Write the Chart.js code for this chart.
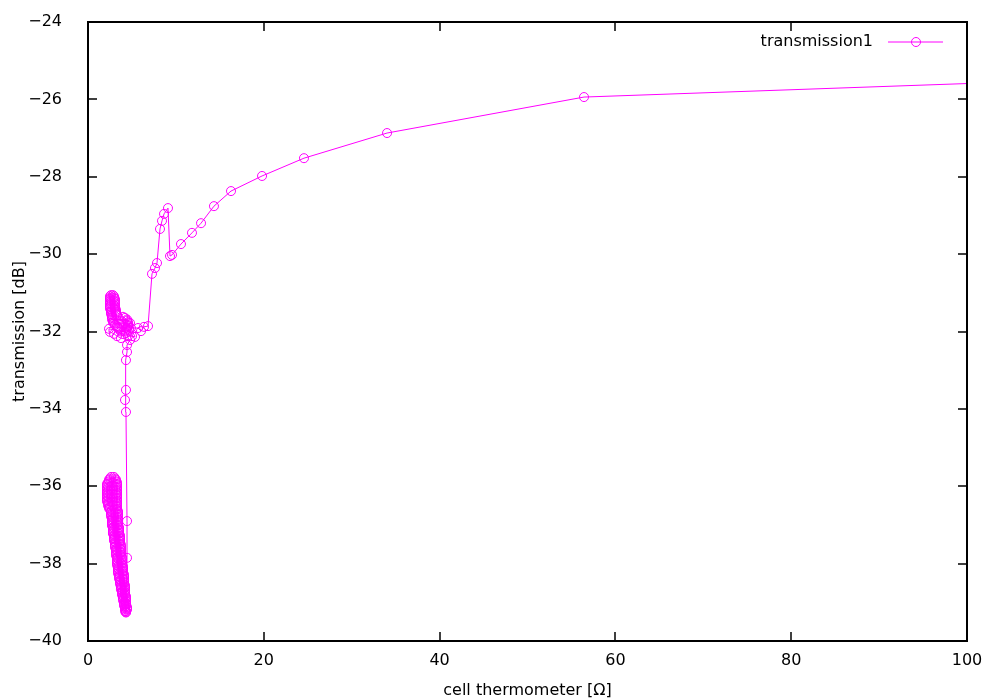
<!DOCTYPE html>
<html>
<head>
<meta charset="utf-8">
<script src="https://cdn.jsdelivr.net/npm/chart.js@4.4.1/dist/chart.umd.min.js"></script>
<style>
  html, body { margin: 0; padding: 0; background: #fff; }
  #wrap { width: 1000px; height: 700px; }
</style>
</head>
<body>
<div id="wrap"><canvas id="grafico" width="1000" height="700"></canvas></div>
<script>
// valores (termometro en ohm, transmision en dB)
// cada linea de thermometer va con la misma linea de transmission
const seriesLabel = "transmission1";

const thermometer = [
  // nube inferior (de arriba hacia abajo)
  2.62, 2.96,  3.07, 2.50,  2.39, 3.19,  3.19, 2.39,  2.28, 3.30,
  3.30, 2.16,  2.16, 3.30,  3.30, 2.16,  2.16, 3.30,  3.30, 2.16,
  2.16, 3.30,  3.30, 2.16,  2.16, 3.30,  3.30, 2.16,  2.16, 3.30,
  3.30, 2.16,  2.16, 3.30,  3.30, 2.16,  2.16, 3.30,  3.30, 2.28,
  2.28, 3.30,  3.30, 2.28,  2.39, 3.30,  3.30, 2.39,  2.50, 3.30,
  3.41, 2.62,  2.62, 3.41,  3.41, 2.62,  2.62, 3.41,  3.41, 2.62,
  2.73, 3.41,  3.41, 2.73,  2.73, 3.41,  3.41, 2.73,  2.73, 3.41,
  3.41, 2.73,  2.73, 3.41,  3.53, 2.84,  2.84, 3.53,  3.53, 2.84,
  2.84, 3.53,  3.53, 2.84,  2.84, 3.53,  3.64, 2.96,  2.96, 3.64,
  3.64, 2.96,  2.96, 3.64,  3.64, 2.96,  3.07, 3.64,  3.64, 3.07,
  3.07, 3.75,  3.75, 3.07,  3.07, 3.75,  3.75, 3.19,  3.19, 3.75,
  3.75, 3.19,  3.19, 3.75,  3.75, 3.19,  3.19, 3.75,  3.87, 3.30,
  3.30, 3.87,  3.87, 3.30,  3.30, 3.87,  3.87, 3.30,  3.30, 3.87,
  3.87, 3.30,  3.41, 3.98,  3.98, 3.41,  3.41, 3.98,  3.98, 3.41,
  3.41, 3.98,  3.98, 3.41,  3.53, 4.10,  4.10, 3.53,  3.53, 4.10,
  4.10, 3.53,  3.64, 4.10,  4.10, 3.64,  3.64, 4.10,  4.10, 3.64,
  3.75, 4.21,  4.21, 3.75,  3.75, 4.21,  4.21, 3.75,  3.87, 4.21,
  4.21, 3.87,  3.87, 4.21,  4.21, 3.87,  3.98, 4.32,  4.32, 3.98,
  3.98, 4.32,  4.32, 3.98,  4.10, 4.32,  4.32, 4.10,  4.10, 4.32,
  4.32, 4.10,  4.21, 4.44,  4.44, 4.21,  4.21, 4.44,  4.32, 4.21,
  4.32, 4.32,
  // subida a 4.3 ohm
  4.44, 4.44, 4.32, 4.21, 4.32, 4.32, 4.44, 4.44,
  // nube superior (de abajo hacia arriba)
  4.78, 3.75, 3.30, 2.96, 2.50, 2.39,
  3.75, 4.21,  4.32, 3.64,  3.53, 4.44,  4.44, 3.41,  3.30, 4.55,
  4.55, 3.07,  2.96, 4.55,  4.55, 2.84,  2.84, 4.44,  4.44, 2.73,
  2.73, 4.21,  3.98, 2.73,  2.73, 3.30,  3.19, 2.62,  2.62, 3.19,
  3.19, 2.62,  2.62, 3.19,  3.07, 2.50,  2.50, 3.07,  3.07, 2.50,
  2.50, 3.07,  3.07, 2.50,  2.50, 3.07,  3.07, 2.50,  2.50, 3.07,
  2.96, 2.50,  2.50, 2.96,  2.84, 2.62,
  4.55, 4.78, 4.66, 4.32, 4.55, 5.01, 5.35, 4.89, 5.69, 6.03, 6.37,
  6.83,
  // rama alta
  7.28, 7.62, 7.85, 8.19, 8.42, 8.65, 9.10, 9.33, 9.56, 10.58,
  11.83, 12.86, 14.33, 16.27, 19.80, 24.57, 34.02, 56.43, 130.0
];

const transmission = [
  // nube inferior
  -35.76, -35.76,  -35.80, -35.80,  -35.83, -35.83,  -35.87, -35.87,  -35.90, -35.90,
  -35.94, -35.94,  -35.97, -35.97,  -36.01, -36.01,  -36.04, -36.04,  -36.08, -36.08,
  -36.11, -36.11,  -36.15, -36.15,  -36.18, -36.18,  -36.22, -36.22,  -36.25, -36.25,
  -36.29, -36.29,  -36.32, -36.32,  -36.36, -36.36,  -36.39, -36.39,  -36.43, -36.43,
  -36.46, -36.46,  -36.50, -36.50,  -36.53, -36.53,  -36.57, -36.57,  -36.60, -36.60,
  -36.64, -36.64,  -36.67, -36.67,  -36.71, -36.71,  -36.74, -36.74,  -36.78, -36.78,
  -36.81, -36.81,  -36.85, -36.85,  -36.88, -36.88,  -36.92, -36.92,  -36.95, -36.95,
  -36.99, -36.99,  -37.02, -37.02,  -37.06, -37.06,  -37.09, -37.09,  -37.13, -37.13,
  -37.16, -37.16,  -37.20, -37.20,  -37.23, -37.23,  -37.27, -37.27,  -37.30, -37.30,
  -37.34, -37.34,  -37.37, -37.37,  -37.41, -37.41,  -37.44, -37.44,  -37.48, -37.48,
  -37.51, -37.51,  -37.55, -37.55,  -37.58, -37.58,  -37.62, -37.62,  -37.65, -37.65,
  -37.69, -37.69,  -37.72, -37.72,  -37.76, -37.76,  -37.79, -37.79,  -37.83, -37.83,
  -37.86, -37.86,  -37.90, -37.90,  -37.93, -37.93,  -37.97, -37.97,  -38.00, -38.00,
  -38.04, -38.04,  -38.07, -38.07,  -38.11, -38.11,  -38.14, -38.14,  -38.18, -38.18,
  -38.21, -38.21,  -38.25, -38.25,  -38.28, -38.28,  -38.32, -38.32,  -38.35, -38.35,
  -38.39, -38.39,  -38.42, -38.42,  -38.46, -38.46,  -38.49, -38.49,  -38.53, -38.53,
  -38.56, -38.56,  -38.60, -38.60,  -38.63, -38.63,  -38.67, -38.67,  -38.70, -38.70,
  -38.74, -38.74,  -38.77, -38.77,  -38.81, -38.81,  -38.84, -38.84,  -38.88, -38.88,
  -38.91, -38.91,  -38.95, -38.95,  -38.98, -38.98,  -39.02, -39.02,  -39.05, -39.05,
  -39.09, -39.09,  -39.12, -39.12,  -39.16, -39.16,  -39.19, -39.19,  -39.23, -39.23,
  -39.26, -39.26,
  // subida a 4.3 ohm
  -37.85, -36.90, -34.08, -33.77, -33.51, -32.74, -32.53, -32.35,
  // nube superior
  -32.22, -32.17, -32.12, -32.06, -32.01, -31.93,
  -32.00, -32.00,  -31.97, -31.97,  -31.93, -31.93,  -31.90, -31.90,  -31.86, -31.86,
  -31.83, -31.83,  -31.79, -31.79,  -31.76, -31.76,  -31.72, -31.72,  -31.69, -31.69,
  -31.65, -31.65,  -31.62, -31.62,  -31.58, -31.58,  -31.55, -31.55,  -31.51, -31.51,
  -31.48, -31.48,  -31.44, -31.44,  -31.41, -31.41,  -31.37, -31.37,  -31.34, -31.34,
  -31.30, -31.30,  -31.27, -31.27,  -31.23, -31.23,  -31.20, -31.20,  -31.16, -31.16,
  -31.13, -31.13,  -31.09, -31.09,  -31.06, -31.06,
  -31.86, -31.78, -31.96, -32.04, -32.12, -32.12, -32.14, -31.91, -31.91, -31.99, -31.88,
  -31.86,
  // rama alta
  -30.51, -30.36, -30.23, -29.35, -29.14, -28.96, -28.81, -30.05, -30.02, -29.74,
  -29.45, -29.20, -28.76, -28.37, -27.98, -27.52, -26.87, -25.94, -25.35
];

const xTicks = [0, 20, 40, 60, 80, 100];
const yTicks = [-40, -38, -36, -34, -32, -30, -28, -26, -24];

const MAGENTA = "#ff00ff";
const FUENTE = "DejaVu Sans";

const puntos = thermometer.map((t, i) => ({ x: t, y: transmission[i] }));

// marco y marcas hacia dentro, estilo gnuplot
const marcoPlugin = {
  id: "marco",
  afterDatasetsDraw(chart) {
    const { ctx, chartArea: a, scales } = chart;
    const largo = 9;
    ctx.save();
    ctx.strokeStyle = "#000";
    ctx.lineWidth = 1.5;
    xTicks.forEach(v => {
      const px = Math.round(scales.x.getPixelForValue(v));
      ctx.beginPath();
      ctx.moveTo(px, a.bottom); ctx.lineTo(px, a.bottom - largo);
      ctx.moveTo(px, a.top); ctx.lineTo(px, a.top + largo);
      ctx.stroke();
    });
    yTicks.forEach(v => {
      const py = Math.round(scales.y.getPixelForValue(v));
      ctx.beginPath();
      ctx.moveTo(a.left, py); ctx.lineTo(a.left + largo, py);
      ctx.moveTo(a.right, py); ctx.lineTo(a.right - largo, py);
      ctx.stroke();
    });
    ctx.lineWidth = 2;
    ctx.strokeRect(a.left, a.top, a.right - a.left, a.bottom - a.top);

    // leyenda: texto y luego muestra de linea con circulo
    const ly = a.top + 20;
    ctx.font = "16px '" + FUENTE + "'";
    ctx.fillStyle = "#000";
    ctx.textAlign = "right";
    ctx.textBaseline = "middle";
    ctx.fillText(seriesLabel, 873, ly);
    ctx.strokeStyle = MAGENTA;
    ctx.lineWidth = 1;
    ctx.beginPath();
    ctx.moveTo(888, ly); ctx.lineTo(943, ly);
    ctx.stroke();
    ctx.beginPath();
    ctx.arc(916, ly, 4.5, 0, Math.PI * 2);
    ctx.stroke();
    ctx.restore();
  }
};

new Chart(document.getElementById("grafico"), {
  type: "scatter",
  data: {
    datasets: [{
      label: seriesLabel,
      data: puntos,
      showLine: true,
      borderColor: MAGENTA,
      borderWidth: 1,
      backgroundColor: "rgba(0,0,0,0)",
      pointBorderColor: MAGENTA,
      pointBackgroundColor: "rgba(0,0,0,0)",
      pointRadius: 4.5,
      pointBorderWidth: 1,
      tension: 0
    }]
  },
  options: {
    responsive: false,
    animation: false,
    events: [],
    layout: { padding: { top: 22, right: 33, left: 0, bottom: 0 } },
    plugins: { legend: { display: false }, tooltip: { enabled: false } },
    scales: {
      x: {
        type: "linear",
        min: 0, max: 100,
        afterFit: s => { s.height = 59; s.paddingLeft = 0; s.paddingRight = 0; },
        afterBuildTicks: s => { s.ticks = xTicks.map(v => ({ value: v })); },
        grid: { display: false, drawTicks: false },
        border: { display: false },
        ticks: { color: "#000", padding: 10, font: { family: FUENTE, size: 16 } },
        title: {
          display: true, text: "cell thermometer [Ω]", color: "#000",
          padding: { top: 0, bottom: 0 }, font: { family: FUENTE, size: 16 }
        }
      },
      y: {
        type: "linear",
        min: -40, max: -24,
        afterFit: s => { s.width = 88; s.paddingTop = 0; s.paddingBottom = 0; },
        afterBuildTicks: s => { s.ticks = yTicks.map(v => ({ value: v })); },
        grid: { display: false, drawTicks: false },
        border: { display: false },
        ticks: {
          color: "#000", padding: 26, font: { family: FUENTE, size: 16 },
          callback: v => (v < 0 ? "\u2212" + Math.abs(v) : String(v))
        },
        title: {
          display: true, text: "transmission [dB]", color: "#000",
          padding: { top: 10, bottom: 0 }, font: { family: FUENTE, size: 16 }
        }
      }
    }
  },
  plugins: [marcoPlugin]
});
</script>
</body>
</html>
